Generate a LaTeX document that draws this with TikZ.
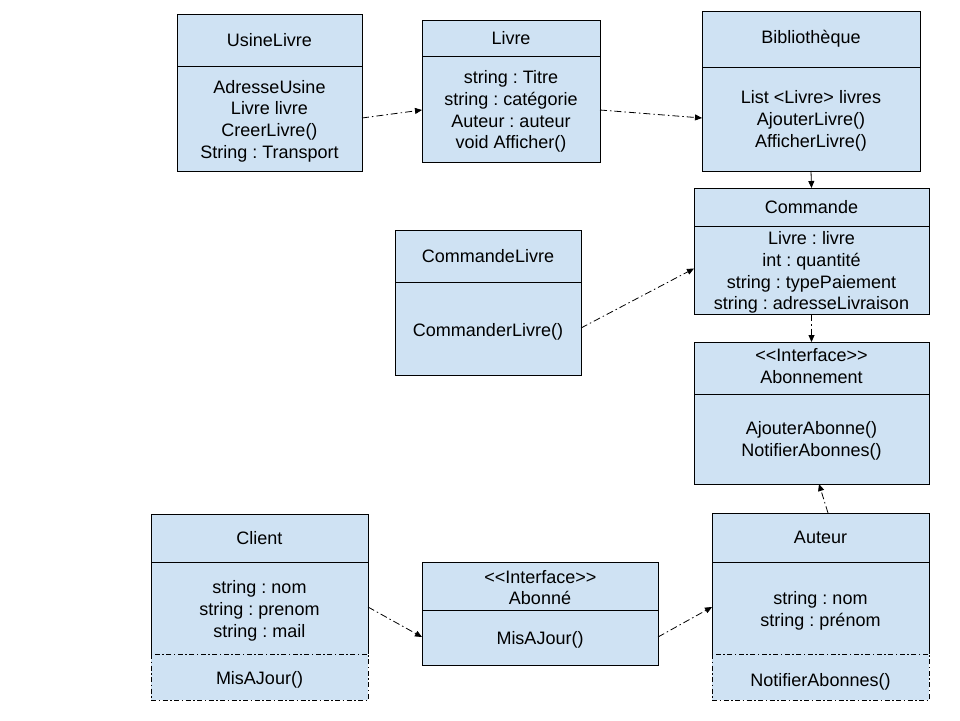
\documentclass[tikz,border=0pt]{standalone}
\usepackage{fontspec}
\setmainfont{Liberation Sans}
\usetikzlibrary{arrows.meta}
\definecolor{boxblue}{RGB}{207,226,243}
\frenchspacing
\newcommand{\lguil}{<\kern0pt<}
\newcommand{\rguil}{>\kern0pt>}
\begin{document}
\begin{tikzpicture}[x=1pt,y=-1pt,
  box/.style={draw=black,fill=boxblue,line width=0.9pt,inner sep=0,outer sep=0,minimum width=#1},
  boxfill/.style={fill=boxblue,draw=none,inner sep=0,outer sep=0},
  txt/.style={inner sep=0,align=center,font=\fontsize{18}{21.7}\selectfont},
  sep/.style={line width=0.9pt},
  dashdot/.style={line width=0.9pt,dash pattern=on 5pt off 2.5pt on 1.5pt off 2.5pt},
  conn/.style={line width=0.8pt,dash pattern=on 7pt off 3pt on 1.5pt off 3pt,-{Triangle[length=7pt,width=6pt]}},
  connsolid/.style={line width=0.8pt,-{Triangle[length=7pt,width=6pt]}}
]
\useasboundingbox[fill=white] (0,0) rectangle (960,720);

% UsineLivre
\node[box=185, minimum height=157] (usine) at (269.5,92.5) {};
\draw[sep] (usine.west |- 0,66) -- (usine.east |- 0,66);
\node[txt] (usineT) at (269.5,40) {UsineLivre};
\node[txt] (usineB) at (269.5,121) {AdresseUsine\\Livre livre\\CreerLivre()\\String : Transport};

% Livre
\node[box=178, minimum height=142] (livre) at (511,91) {};
\draw[sep] (livre.west |- 0,56) -- (livre.east |- 0,56);
\node[txt] (livreT) at (511,38) {Livre};
\node[txt] (livreB) at (511,111.5) {string : Titre\\string : catégorie\\Auteur : auteur\\void Afficher()};

% Bibliotheque
\node[box=218, minimum height=160] (biblio) at (811,91) {};
\draw[sep] (biblio.west |- 0,67) -- (biblio.east |- 0,67);
\node[txt] (biblioT) at (811,39) {Bibliothèque};
\node[txt] (biblioB) at (811,121) {List <Livre> livres\\AjouterLivre()\\AfficherLivre()};

% Commande
\node[box=235, minimum height=126] (commande) at (811.5,251) {};
\draw[sep] (commande.west |- 0,226) -- (commande.east |- 0,226);
\node[txt] (commandeT) at (811.5,207) {Commande};
\node[txt] (commandeB) at (811.5,272.5) {Livre : livre\\int : quantité\\string : typePaiement\\string : adresseLivraison};

% CommandeLivre
\node[box=186, minimum height=145] (cmdlivre) at (488,302.5) {};
\draw[sep] (cmdlivre.west |- 0,282) -- (cmdlivre.east |- 0,282);
\node[txt] (cmdlivreT) at (488,256) {CommandeLivre};
\node[txt] (cmdlivreB) at (488,331.5) {CommanderLivre()};

% Abonnement
\node[box=235, minimum height=142] (abonnement) at (811.5,413) {};
\draw[sep] (abonnement.west |- 0,394) -- (abonnement.east |- 0,394);
\node[txt] (abonnementT) at (811.5,366) {\lguil Interface\rguil\\Abonnement};
\node[txt] (abonnementB) at (811.5,441) {AjouterAbonne()\\NotifierAbonnes()};

% Client
\node[boxfill, minimum width=217, minimum height=186] (client) at (259.5,607) {};
\draw[sep] (client.south west |- 0,654) -- (client.north west) -- (client.north east) -- (client.south east |- 0,654);
\draw[dashdot] (client.south west |- 0,654) -- (client.south west) -- (client.south east) -- (client.south east |- 0,654) -- cycle;
\draw[sep] (client.west |- 0,562) -- (client.east |- 0,562);
\node[txt] (clientT) at (259.5,538) {Client};
\node[txt] (clientB) at (259.5,611) {string : nom\\string : prenom\\string : mail};
\node[txt] (clientC) at (259.5,680) {MisAJour()};

% Abonne
\node[box=236, minimum height=103] (abonne) at (540,613.5) {};
\draw[sep] (abonne.west |- 0,610) -- (abonne.east |- 0,610);
\node[txt] (abonneT1) at (540.4,577) {\lguil Interface\rguil};
\node[txt] (abonneT2) at (540,598) {Abonné};
\node[txt] (abonneB) at (540,640) {MisAJour()};

% Auteur
\node[boxfill, minimum width=217, minimum height=187] (auteur) at (820.5,606.5) {};
\draw[sep] (auteur.south west |- 0,654) -- (auteur.north west) -- (auteur.north east) -- (auteur.south east |- 0,654);
\draw[dashdot] (auteur.south west |- 0,654) -- (auteur.south west) -- (auteur.south east) -- (auteur.south east |- 0,654) -- cycle;
\draw[sep] (auteur.west |- 0,562) -- (auteur.east |- 0,562);
\node[txt] (auteurT) at (820.5,537.5) {Auteur};
\node[txt] (auteurB) at (820.5,611) {string : nom\\string : prénom};
\node[txt] (auteurC) at (820.5,681.5) {NotifierAbonnes()};

% Connectors
\draw[conn] ([yshift=3pt]usine.east |- usineB) -- ([yshift=1.5pt]livre.west |- livreB);
\draw[conn] ([yshift=1.5pt]livre.east |- livreB) -- ([yshift=3pt]biblio.west |- biblioB);
\draw[connsolid] (biblio.south) -- (commande.north);
\draw[conn] ([yshift=3.5pt]cmdlivre.east |- cmdlivreB) -- ([yshift=4pt]commande.west |- commandeB);
\draw[conn] (commande.south) -- (abonnement.north);
\draw[conn] ([xshift=7.5pt]auteur.north) -- ([xshift=7.5pt]abonnement.south);
\draw[conn] ([yshift=4pt]client.east |- clientB) -- ([yshift=3pt]abonne.west |- abonneB);
\draw[conn] ([yshift=3pt]abonne.east |- abonneB) -- ([yshift=4pt]auteur.west |- auteurB);
\end{tikzpicture}
\end{document}
